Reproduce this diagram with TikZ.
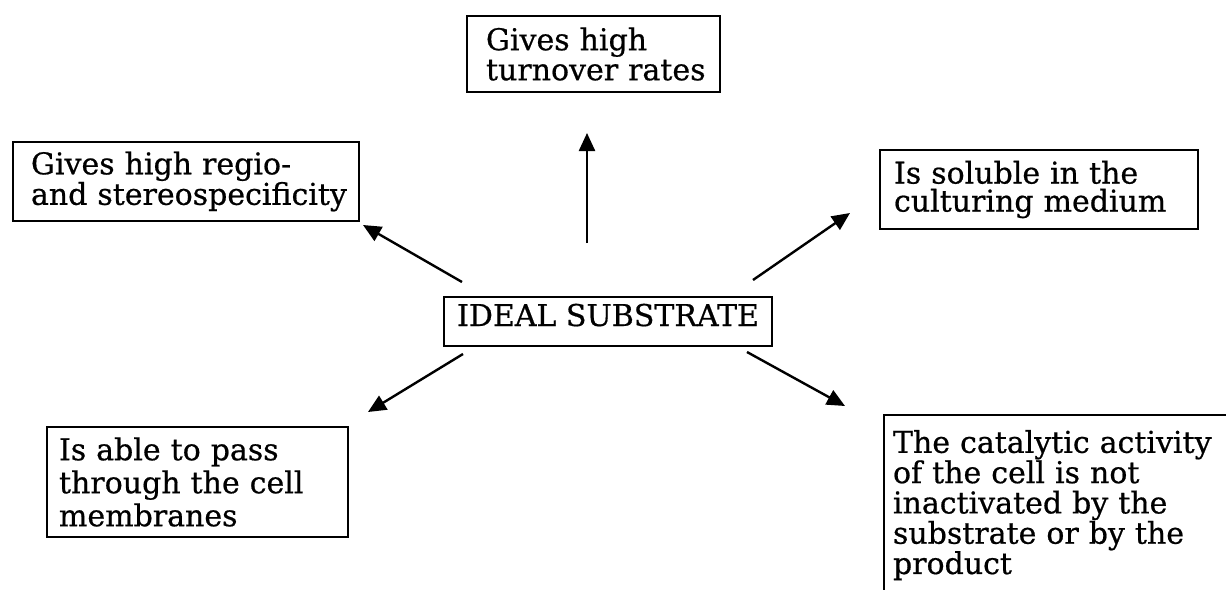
\documentclass[tikz,border=0pt]{standalone}
\usepackage{fontspec}
\setmainfont[FakeBold=0.6]{DejaVu Serif}
\usetikzlibrary{arrows.meta}
\begin{document}
\begin{tikzpicture}[x=1pt,y=-1pt,
  box/.style={draw, line width=2pt, rectangle, inner ysep=0pt, align=left,
    anchor=north west},
  lsp/.style={font=\fontsize{30}{#1}\selectfont},
  arr/.style={line width=2.4pt, -{Triangle[length=18pt,width=16pt]}}]
\clip (0,0) rectangle (1226,589);
\fill[white] (0,0) rectangle (1226,589);

% nodes
\node[box, lsp=30, text width=215pt, inner xsep=19pt, minimum height=76pt]
  (turn) at (466,15) {\mbox{Gives high}\\\mbox{turnover rates}};
\node[box, lsp=28, text width=310pt, inner xsep=18pt, minimum height=79pt]
  (regio) at (12,141) {\mbox{Gives high regio-}\\\mbox{and stereospecificity}};
\node[box, lsp=28, text width=290pt, inner xsep=14pt, minimum height=79pt]
  (sol) at (879,149) {\mbox{Is soluble in the}\\\mbox{culturing medium}};
\node[box, lsp=30, align=center, inner xsep=0pt, inner ysep=7pt,
  minimum width=328pt, text height=22pt, text depth=13pt]
  (sub) at (443,296) {IDEAL SUBSTRATE};
\node[box, lsp=33, text width=277pt, inner xsep=12pt, minimum height=110pt]
  (pass) at (46,426) {\mbox{Is able to pass}\\\mbox{through the cell}\\\mbox{membranes}};
\node[box, lsp=30.3, text width=340pt, inner xsep=9pt, inner ysep=15pt]
  (cat) at (883,414) {\mbox{The catalytic activity}\\\mbox{of the cell is not}\\\mbox{inactivated by the}\\\mbox{substrate or by the}\\\mbox{product}};

% connector end points
\coordinate (s1) at (587,243); \coordinate (t1) at (587,133);
\coordinate (s2) at (462,282); \coordinate (t2) at (363,225);
\coordinate (s3) at (753,280); \coordinate (t3) at (850,213);
\coordinate (s4) at (463,354); \coordinate (t4) at (368,412);
\coordinate (s5) at (747,352); \coordinate (t5) at (845,406);

\draw[arr] (s1) -- (t1);
\draw[arr] (s2) -- (t2);
\draw[arr] (s3) -- (t3);
\draw[arr] (s4) -- (t4);
\draw[arr] (s5) -- (t5);
\end{tikzpicture}
\end{document}
